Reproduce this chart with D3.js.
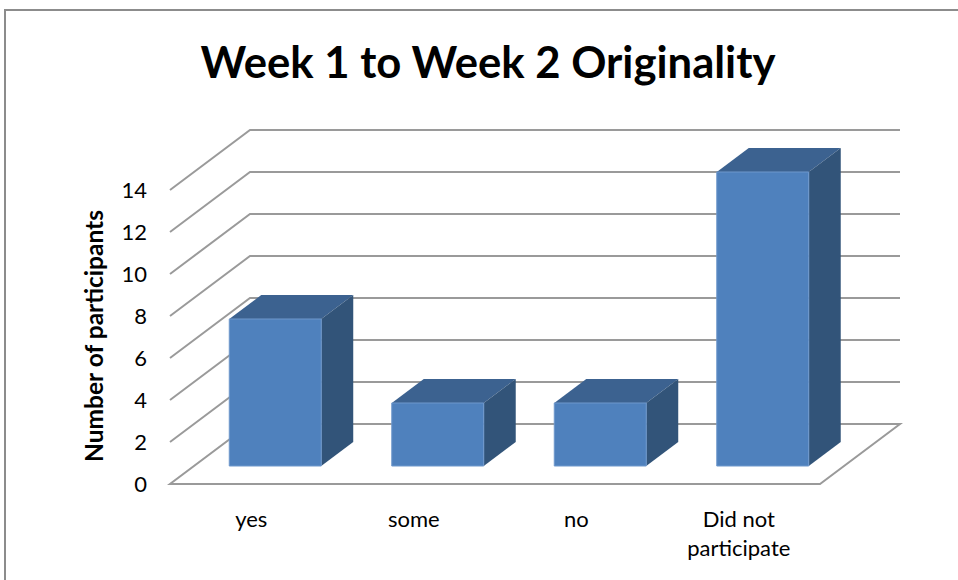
<!DOCTYPE html>
<html>
<head>
<meta charset="utf-8">
<script src="https://cdn.jsdelivr.net/npm/d3@7"></script>
<style>
  body { margin: 0; background: #fff; }
  svg { display: block; font-family: Lato, "Open Sans", sans-serif; }
</style>
</head>
<body>
<div id="chart"></div>
<script>
var categories = ["yes", "some", "no", "Did not participate"];
var values = [7, 3, 3, 14];
var yTicks = [0, 2, 4, 6, 8, 10, 12, 14];
var title = "Week 1 to Week 2 Originality";
var yLabel = "Number of participants";

var width = 958, height = 580;
// depth offset of the 3d box (back wall relative to front plane)
var depthX = 80, depthY = -60;
var barZ0 = 0.3, barZ1 = 0.7;

var svg = d3.select("#chart").append("svg")
    .attr("width", width)
    .attr("height", height);

// chart area border
svg.append("rect")
    .attr("x", 5).attr("y", 10)
    .attr("width", 960).attr("height", 600)
    .attr("fill", "#fff")
    .attr("stroke", "#8c8c8c")
    .attr("stroke-width", 2);

var x = d3.scaleBand()
    .domain(categories)
    .range([170, 820])
    .paddingInner(0.434)
    .paddingOuter(0.217);

var y = d3.scaleLinear()
    .domain([0, 14])
    .range([484, 190]);

function P(px, v, z) {
    return [px + depthX * z, y(v) + depthY * z];
}
function poly(pts) {
    return pts.map(function(p) { return p.join(","); }).join(" ");
}

var x0 = x.range()[0], x1 = x.range()[1];

// floor
svg.append("polygon")
    .attr("points", poly([P(x0, 0, 0), P(x1, 0, 0), P(x1, 0, 1), P(x0, 0, 1)]))
    .attr("fill", "#fff")
    .attr("stroke", "#9a9a9a")
    .attr("stroke-width", 2)
    .attr("stroke-linejoin", "miter");

// gridlines on side and back wall
var grid = svg.append("g")
    .attr("fill", "none")
    .attr("stroke", "#9a9a9a")
    .attr("stroke-width", 2);

grid.selectAll(".side")
    .data(yTicks.filter(function(d) { return d > 0; }))
    .enter().append("polyline")
    .attr("points", function(d) {
        return poly([P(x0, d, 0), P(x0, d, 1), P(x1, d, 1)]);
    });

// bars
var bar = svg.selectAll(".bar")
    .data(values)
    .enter().append("g")
    .attr("class", "bar");

bar.append("polygon")
    .attr("points", function(d, i) {
        var a = x(categories[i]), b = a + x.bandwidth();
        return poly([P(a, d, barZ0), P(b, d, barZ0), P(b, d, barZ1), P(a, d, barZ1)]);
    })
    .attr("fill", "#3c6290");

bar.append("polygon")
    .attr("points", function(d, i) {
        var b = x(categories[i]) + x.bandwidth();
        return poly([P(b, 0, barZ0), P(b, d, barZ0), P(b, d, barZ1), P(b, 0, barZ1)]);
    })
    .attr("fill", "#325479");

bar.append("polygon")
    .attr("points", function(d, i) {
        var a = x(categories[i]), b = a + x.bandwidth();
        return poly([P(a, 0, barZ0), P(b, 0, barZ0), P(b, d, barZ0), P(a, d, barZ0)]);
    })
    .attr("fill", "#4f81bd")
    .attr("stroke", "#6f98cc")
    .attr("stroke-width", 1);

// y tick labels
svg.append("g").selectAll("text")
    .data(yTicks)
    .enter().append("text")
    .attr("x", 147)
    .attr("y", function(d) { return y(d); })
    .attr("dy", "0.36em")
    .attr("text-anchor", "end")
    .attr("font-size", 22)
    .attr("fill", "#000")
    .text(function(d) { return d; });

// category labels, wrapped
var cat = svg.append("g").selectAll("text")
    .data(categories)
    .enter().append("text")
    .attr("x", function(d) { return x(d) + x.bandwidth() / 2; })
    .attr("y", 527)
    .attr("text-anchor", "middle")
    .attr("font-size", 22)
    .attr("fill", "#000");

cat.each(function(d) {
    var t = d3.select(this);
    var words = d.split(" ");
    var lines = [], line = [];
    var probe = t.append("tspan");
    words.forEach(function(w) {
        line.push(w);
        probe.text(line.join(" "));
        if (probe.node().getComputedTextLength() > 130 && line.length > 1) {
            line.pop();
            lines.push(line.join(" "));
            line = [w];
        }
    });
    lines.push(line.join(" "));
    probe.remove();
    lines.forEach(function(l, k) {
        t.append("tspan")
            .attr("x", t.attr("x"))
            .attr("dy", k === 0 ? 0 : 29)
            .text(l);
    });
});

// axis title
var yt = svg.append("text")
    .attr("transform", "translate(103,336) rotate(-90)")
    .attr("text-anchor", "middle")
    .attr("font-size", 20)
    .attr("font-weight", "bold")
    .attr("fill", "#000")
    .text(yLabel);
var ytl = yt.node().getComputedTextLength();
if (ytl > 0) yt.attr("font-size", 20 * 252 / ytl);

// chart title
var t = svg.append("text")
    .attr("x", 488)
    .attr("y", 78)
    .attr("text-anchor", "middle")
    .attr("font-size", 40)
    .attr("font-weight", "bold")
    .attr("fill", "#000")
    .text(title);
var tl = t.node().getComputedTextLength();
if (tl > 0) t.attr("font-size", 40 * 575 / tl);
</script>
</body>
</html>
